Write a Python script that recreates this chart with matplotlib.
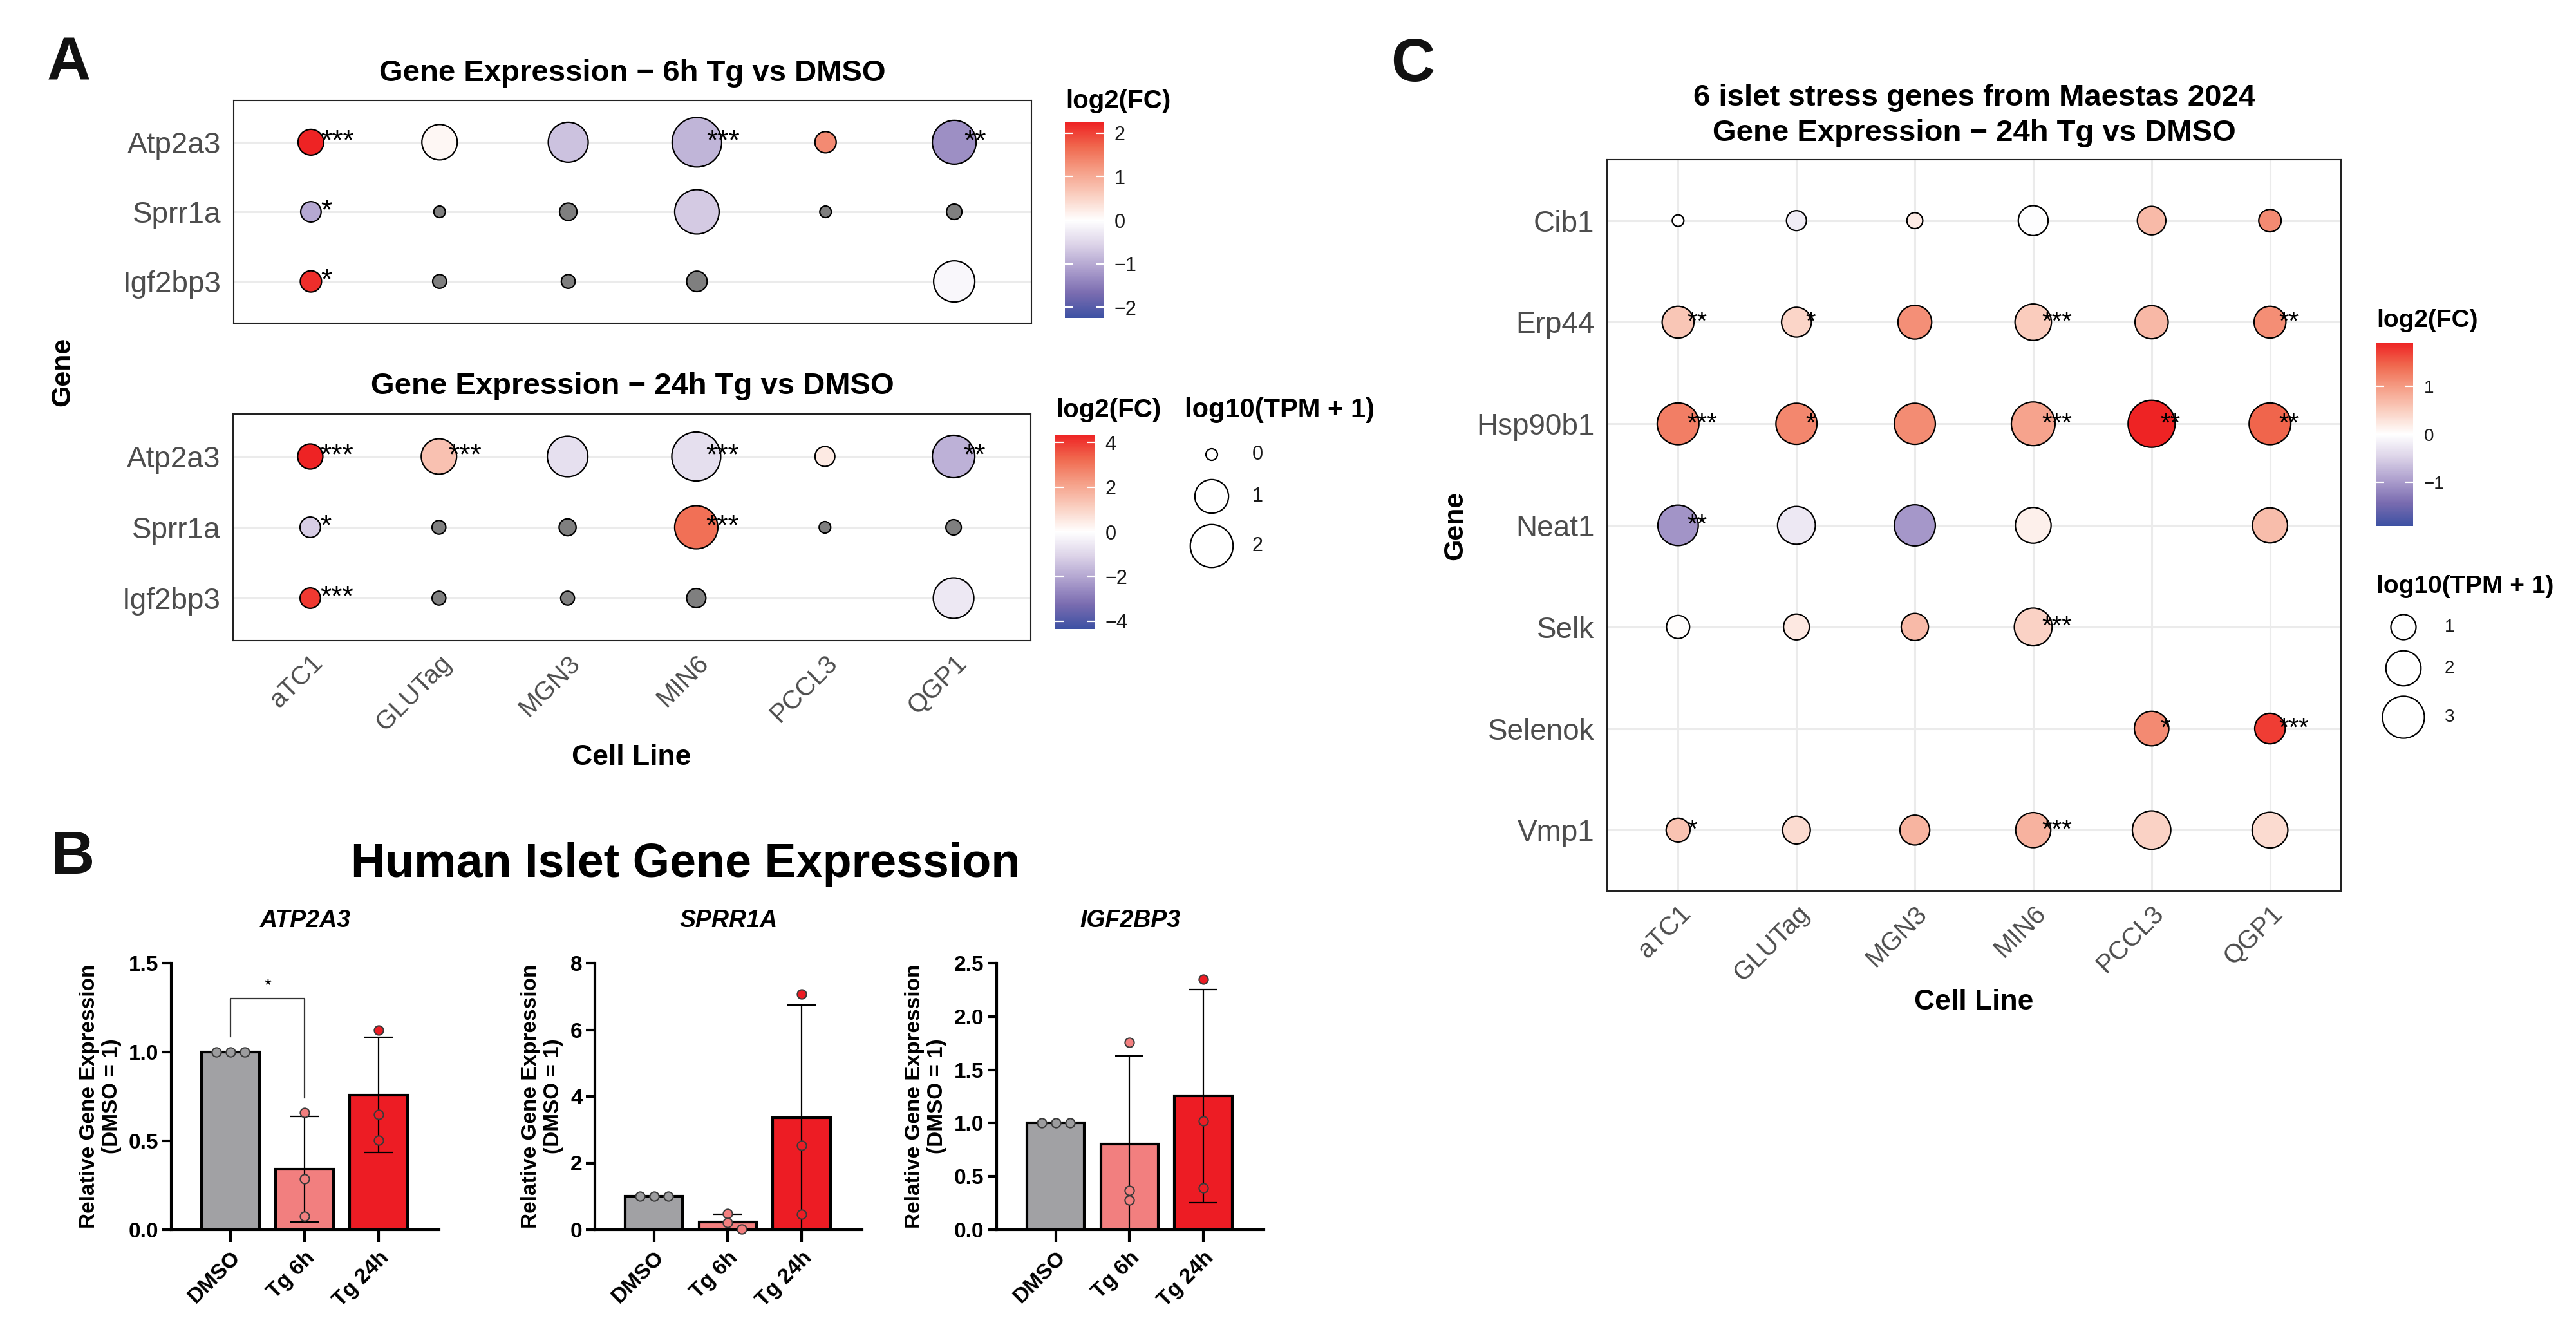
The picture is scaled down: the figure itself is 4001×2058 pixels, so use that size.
import numpy as np
import matplotlib
matplotlib.use("Agg")
import matplotlib.pyplot as plt
from matplotlib.colors import LinearSegmentedColormap, Normalize
from matplotlib.cm import ScalarMappable

plt.rcParams['font.family'] = ['Liberation Sans', 'DejaVu Sans']
plt.rcParams['axes.unicode_minus'] = True

W, H, DPI = 4001, 2058, 100
nan = np.nan

# ---------------- data : panel A / C dot plots ----------------
cell_lines = ["aTC1", "GLUTag", "MGN3", "MIN6", "PCCL3", "QGP1"]
genes_A = ["Atp2a3", "Sprr1a", "Igf2bp3"]

fc_6h = [[2.25, 0.09, -0.75, -0.88, 1.35, -1.30],
         [-1.03, nan, nan, -0.66, nan, nan],
         [2.16, nan, nan, nan, nan, -0.10]]
tpm_6h = [[0.41, 1.16, 1.64, 2.95, 0.19, 2.12],
          [0.16, 0.00, 0.07, 2.20, 0.00, 0.03],
          [0.19, 0.01, 0.01, 0.16, nan, 1.79]]
sig_6h = [["***", "", "", "***", "", "**"],
          ["*", "", "", "", "", ""],
          ["*", "", "", "", "", ""]]

fc_24h = [[4.35, 1.40, -0.75, -0.80, 0.50, -1.80],
          [-1.20, nan, nan, 3.10, nan, nan],
          [4.00, nan, nan, nan, nan, -0.55]]
tpm_24h = [[0.38, 1.16, 1.72, 2.86, 0.14, 1.96],
           [0.16, 0.01, 0.06, 2.04, 0.00, 0.03],
           [0.16, 0.01, 0.01, 0.12, nan, 1.72]]
sig_24h = [["***", "***", "", "***", "", "**"],
           ["*", "", "", "***", "", ""],
           ["***", "", "", "", "", ""]]

genes_C = ["Cib1", "Erp44", "Hsp90b1", "Neat1", "Selk", "Selenok", "Vmp1"]
fc_C = [[0.00, -0.20, 0.20, -0.03, 0.70, 1.15],
        [0.58, 0.42, 1.10, 0.52, 0.71, 1.12],
        [1.25, 1.17, 1.13, 0.92, 1.92, 1.46],
        [-1.06, -0.25, -1.02, 0.15, nan, 0.67],
        [0.02, 0.23, 0.70, 0.46, nan, nan],
        [nan, nan, nan, nan, 1.15, 1.73],
        [0.60, 0.37, 0.75, 0.77, 0.46, 0.37]]
tpm_C = [[0.50, 0.69, 0.55, 1.40, 1.27, 0.82],
         [1.61, 1.40, 1.83, 2.17, 1.76, 1.61],
         [2.96, 2.85, 2.85, 3.30, 3.90, 2.96],
         [2.75, 2.36, 2.85, 2.08, nan, 2.00],
         [0.86, 1.05, 1.16, 2.36, nan, nan],
         [nan, nan, nan, nan, 1.92, 1.47],
         [0.91, 1.21, 1.40, 2.00, 2.45, 2.08]]
sig_C = [["", "", "", "", "", ""],
         ["**", "*", "", "***", "", "**"],
         ["***", "*", "", "***", "**", "**"],
         ["**", "", "", "", "", ""],
         ["", "", "", "***", "", ""],
         ["", "", "", "", "*", "***"],
         ["*", "", "", "***", "", ""]]

# ---------------- data : panel B bar charts ----------------
groups_B = ["DMSO", "Tg 6h", "Tg 24h"]
ATP2A3 = [[1.0, 1.0, 1.0], [0.66, 0.286, 0.076], [1.123, 0.65, 0.503]]
SPRR1A = [[1.0, 1.0, 1.0], [0.48, 0.22, 0.02], [7.07, 2.53, 0.46]]
IGF2BP3 = [[1.0, 1.0, 1.0], [1.76, 0.37, 0.28], [2.35, 1.02, 0.39]]
yticks_ATP2A3 = [0.0, 0.5, 1.0, 1.5]
yticks_SPRR1A = [0, 2, 4, 6, 8]
yticks_IGF2BP3 = [0.0, 0.5, 1.0, 1.5, 2.0, 2.5]

# ---------------- styles ----------------
cm_pos = [0.0, 0.125, 0.24, 0.375, 0.5, 0.625, 0.76, 0.875, 1.0]
cm_col = ["#3D51A3", "#7A6CB0", "#A99BCB", "#DCD3E8", "#FFFFFF",
          "#FAD0C2", "#F59C84", "#F0694F", "#EE2324"]
CMAP = LinearSegmentedColormap.from_list("fc", list(zip(cm_pos, cm_col)))
NA_GREY = "#7F7F7F"
TXT_GREY = "#4D4D4D"
GRID = "#EBEBEB"
bar_cols = ["#A1A1A4", "#F27F7F", "#ED1C24"]
pt_cols = ["#9C9C9E", "#F27F7F", "#ED1C24"]

fig = plt.figure(figsize=(W / DPI, H / DPI), dpi=DPI)


def add_ax_px(x0, y0, x1, y1):
    return fig.add_axes([x0 / W, 1 - y1 / H, (x1 - x0) / W, (y1 - y0) / H])


def px2pt(d):
    return d * 72.0 / DPI


def diam(v, lo, hi, dmin, dmax):
    return dmin + (dmax - dmin) * np.sqrt(np.clip((v - lo) / (hi - lo), 0, 1))


def dot_panel(ax, fc, tpm, sig, genes, dmin, dmax, star_fs, show_x, vgrid):
    fc = np.array(fc, float)
    tpm = np.array(tpm, float)
    lim = np.nanmax(np.abs(fc))
    norm = Normalize(-lim, lim)
    lo, hi = np.nanmin(tpm), np.nanmax(tpm)
    nr, nc = tpm.shape
    ax.set_xlim(-0.6, nc - 0.4)
    ax.set_ylim(nr - 0.4, -0.6)
    xs, ys, ss, cs = [], [], [], []
    for i in range(nr):
        for j in range(nc):
            if np.isnan(tpm[i, j]):
                continue
            xs.append(j)
            ys.append(i)
            ss.append(px2pt(diam(tpm[i, j], lo, hi, dmin, dmax)) ** 2)
            cs.append(NA_GREY if np.isnan(fc[i, j]) else CMAP(norm(fc[i, j])))
            if sig[i][j]:
                ax.text(j + 0.075, i, sig[i][j], ha='left', va='center',
                        fontsize=star_fs, color='black', zorder=5)
    ax.scatter(xs, ys, s=ss, c=cs, edgecolors='black', linewidths=1.6, zorder=4)
    ax.set_yticks(range(nr))
    ax.set_yticklabels(genes, fontsize=33, color=TXT_GREY)
    ax.set_xticks(range(nc))
    if show_x:
        ax.set_xticklabels(cell_lines, rotation=45, ha='right', va='top',
                           rotation_mode='anchor', fontsize=29, color=TXT_GREY)
    else:
        ax.set_xticklabels([])
    ax.tick_params(axis='both', length=0)
    ax.tick_params(axis='y', pad=14)
    ax.tick_params(axis='x', pad=11)
    ax.grid(axis='y', color=GRID, lw=2.2, zorder=0)
    if vgrid:
        ax.grid(axis='x', color=GRID, lw=2.2, zorder=0)
    ax.set_axisbelow(True)
    for sp in ax.spines.values():
        sp.set_linewidth(1.5)
        sp.set_color('#222222')
    return lim, lo, hi


def colorbar_px(x0, y0, x1, y1, lim, ticks, fs):
    cax = add_ax_px(x0, y0, x1, y1)
    sm = ScalarMappable(norm=Normalize(-lim, lim), cmap=CMAP)
    cb = fig.colorbar(sm, cax=cax, ticks=ticks)
    cb.outline.set_visible(False)
    cax.yaxis.set_ticks_position('both')
    cax.tick_params(axis='y', direction='in', length=9, width=1.6, color='white',
                    labelsize=fs, labelcolor='#1A1A1A', pad=12,
                    labelleft=False, labelright=True)
    return cb


# ---------------- panel A ----------------
axA1 = add_ax_px(363, 156, 1602, 502)
limA1, _, _ = dot_panel(axA1, fc_6h, tpm_6h, sig_6h, genes_A, 18, 77, 32, False, False)
axA2 = add_ax_px(362, 643, 1601, 995)
limA2, loA2, hiA2 = dot_panel(axA2, fc_24h, tpm_24h, sig_24h, genes_A, 18, 76, 32, True, False)
colorbar_px(1654, 190, 1714, 494, limA1, [-2, -1, 0, 1, 2], 22)
colorbar_px(1639, 675, 1700, 977, limA2, [-4, -2, 0, 2, 4], 22)

# ---------------- panel C ----------------
axC = add_ax_px(2496, 248, 3636, 1384)
limC, loC, hiC = dot_panel(axC, fc_C, tpm_C, sig_C, genes_C, 18, 73, 29, True, True)
axC.spines['bottom'].set_linewidth(2.6)
colorbar_px(3690, 532, 3748, 817, limC, [-1, 0, 1], 20)

# ---------------- panel B ----------------
def swarm_offsets(vals, ppu, d_px, step_px):
    placed = []
    order = np.argsort(-np.asarray(vals))
    res = np.zeros(len(vals))
    for k in order:
        y = vals[k] * ppu
        c = 0.0
        n = 0
        while any((c - px) ** 2 + (y - py) ** 2 < d_px ** 2 for px, py in placed):
            n += 1
            c = step_px * ((n + 1) // 2) * (1 if n % 2 else -1)
        placed.append((c, y))
        res[k] = c
    return res


def bar_panel(ax, title, data, yticks, fmt):
    means = [np.mean(v) for v in data]
    sds = [np.std(v, ddof=1) for v in data]
    x = np.arange(len(data))
    ax.set_xlim(-0.8, 2.82)
    ax.set_ylim(0, yticks[-1])
    ax.bar(x, means, width=0.78, color=bar_cols, edgecolor='black', linewidth=3, zorder=2)
    ax.errorbar(x, means, yerr=sds, fmt='none', ecolor='black', elinewidth=1.6,
                capsize=16, capthick=1.6, zorder=3)
    bb = ax.get_position()
    ppu_y = bb.height * H / yticks[-1]
    ppu_x = bb.width * W / 3.62
    for i, v in enumerate(data):
        off = swarm_offsets(v, ppu_y, 13, 22) / ppu_x
        ax.scatter(x[i] + off, v, s=105, color=pt_cols[i], edgecolors='#3A3A3A',
                   linewidths=1.5, zorder=4, clip_on=False)
    for s in ['top', 'right']:
        ax.spines[s].set_visible(False)
    for s in ['left', 'bottom']:
        ax.spines[s].set_linewidth(3)
    ax.set_xticks(x)
    ax.set_xticklabels(groups_B, rotation=45, ha='right', va='top',
                       rotation_mode='anchor', fontsize=24, fontweight='bold')
    ax.set_yticks(yticks)
    ax.set_yticklabels([fmt.format(t) for t in yticks], fontsize=24, fontweight='bold')
    ax.tick_params(axis='x', length=14, width=3, pad=6)
    ax.tick_params(axis='y', length=10, width=3, pad=4)
    ax.set_title(title, fontsize=27, fontweight='bold', fontstyle='italic', pad=40)
    ax.set_ylabel("Relative Gene Expression\n(DMSO = 1)", fontsize=24,
                  fontweight='bold', labelpad=8, linespacing=1.15)
    return means, sds


axB1 = add_ax_px(266, 1496, 682, 1910)
bar_panel(axB1, "ATP2A3", ATP2A3, yticks_ATP2A3, "{:.1f}")
axB2 = add_ax_px(924, 1496, 1339, 1910)
bar_panel(axB2, "SPRR1A", SPRR1A, yticks_SPRR1A, "{:.0f}")
axB3 = add_ax_px(1548, 1496, 1963, 1910)
bar_panel(axB3, "IGF2BP3", IGF2BP3, yticks_IGF2BP3, "{:.1f}")

# significance bracket DMSO vs Tg 6h (ATP2A3)
br_top = 1.30
axB1.plot([0, 0, 1, 1], [1.087, br_top, br_top, 0.744], color='#333333', lw=1.6,
          clip_on=False, zorder=5)
axB1.text(0.5, br_top + 0.025, "*", ha='center', va='bottom', fontsize=20)

# ---------------- overlay texts & legends ----------------
ov = fig.add_axes([0, 0, 1, 1])
ov.set_xlim(0, W)
ov.set_ylim(H, 0)
ov.axis('off')

for lab, (x, y) in {"A": (73, 125), "B": (79, 1357), "C": (2160, 126)}.items():
    ov.text(x, y, lab, fontsize=68, fontweight='bold', ha='left', va='baseline',
            color='#111111')

ov.text(982, 126, "Gene Expression \u2212 6h Tg vs DMSO", fontsize=34, fontweight='bold',
        ha='center', va='baseline')
ov.text(982, 612, "Gene Expression \u2212 24h Tg vs DMSO", fontsize=34, fontweight='bold',
        ha='center', va='baseline')
ov.text(3066, 164, "6 islet stress genes from Maestas 2024", fontsize=34, fontweight='bold',
        ha='center', va='baseline')
ov.text(3066, 219, "Gene Expression \u2212 24h Tg vs DMSO", fontsize=34, fontweight='bold',
        ha='center', va='baseline')
ov.text(1065, 1362, "Human Islet Gene Expression", fontsize=53, fontweight='bold',
        ha='center', va='baseline')

ov.text(97, 577, "Gene", fontsize=31, fontweight='bold', rotation=90, ha='center', va='center')
ov.text(981, 1177, "Cell Line", fontsize=32, fontweight='bold', ha='center', va='center')
ov.text(2260, 816, "Gene", fontsize=31, fontweight='bold', rotation=90, ha='center', va='center')
ov.text(3066, 1557, "Cell Line", fontsize=32, fontweight='bold', ha='center', va='center')

# legend titles
ov.text(1655, 168, "log2(FC)", fontsize=29, fontweight='bold', ha='left', va='baseline')
ov.text(1640, 648, "log2(FC)", fontsize=29, fontweight='bold', ha='left', va='baseline')
ov.text(1840, 648, "log10(TPM + 1)", fontsize=30, fontweight='bold', ha='left', va='baseline')
ov.text(3691, 508, "log2(FC)", fontsize=28, fontweight='bold', ha='left', va='baseline')
ov.text(3691, 921, "log10(TPM + 1)", fontsize=28, fontweight='bold', ha='left', va='baseline')

# size legends
legA_vals = [0, 1, 2]
legA_y = [706, 771, 848]
ov.scatter([1882] * 3, legA_y,
           s=[px2pt(diam(v, loA2, hiA2, 18, 76)) ** 2 for v in legA_vals],
           facecolors='white', edgecolors='black', linewidths=1.6)
for v, y in zip(legA_vals, legA_y):
    ov.text(1945, y, str(v), fontsize=22, ha='left', va='center', color='#1A1A1A')

legC_vals = [1, 2, 3]
legC_y = [974, 1038, 1114]
ov.scatter([3733] * 3, legC_y,
           s=[px2pt(diam(v, loC, hiC, 18, 73)) ** 2 for v in legC_vals],
           facecolors='white', edgecolors='black', linewidths=1.6)
for v, y in zip(legC_vals, legC_y):
    ov.text(3797, y, str(v), fontsize=20, ha='left', va='center', color='#1A1A1A')

fig.savefig("out.png", dpi=DPI)
